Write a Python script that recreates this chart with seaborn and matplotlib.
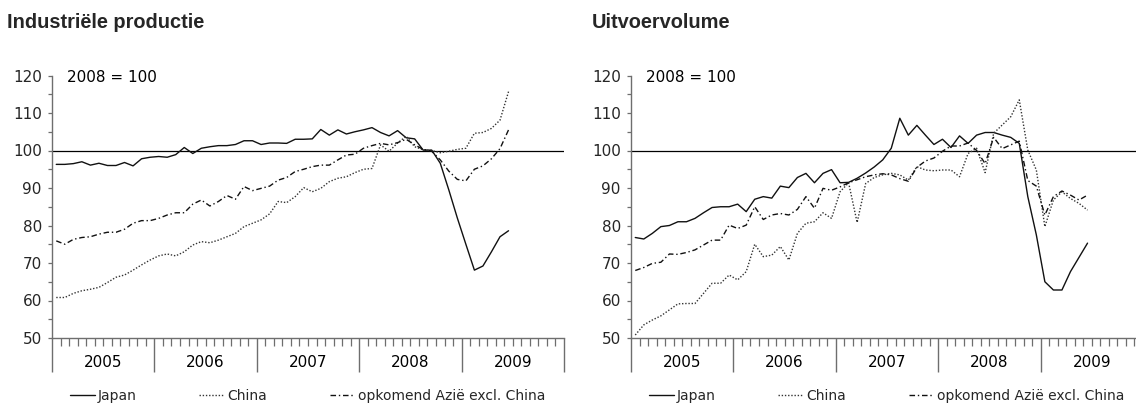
import numpy as np
import pandas as pd
import matplotlib
matplotlib.use("Agg")
import matplotlib.pyplot as plt
from matplotlib.lines import Line2D
from matplotlib.ticker import MultipleLocator, FixedLocator, NullFormatter
import seaborn as sns

# monthly data, Jan 2005 - Jun 2009, index 2008 = 100
months = pd.date_range("2005-01-01", "2009-06-01", freq="MS")
years = [2005, 2006, 2007, 2008, 2009]
series_names = ["Japan", "China", "opkomend Azië excl. China"]
panel_titles = ["Industriële productie", "Uitvoervolume"]
base_label = "2008 = 100"

ip_japan = [96.3, 96.3, 96.5, 97.0, 96.1, 96.6, 96.0, 96.0, 96.8, 95.9, 97.8, 98.2,
            98.4, 98.2, 98.9, 100.8, 99.2, 100.6, 101.0, 101.3, 101.3, 101.6, 102.6, 102.6,
            101.6, 102.0, 102.0, 101.9, 103.0, 103.0, 103.1, 105.6, 104.1, 105.5, 104.4, 105.0,
            105.5, 106.1, 104.8, 103.9, 105.3, 103.4, 103.1, 100.1, 100.1, 96.6, 89.5, 82.0,
            75.0, 68.1, 69.2, 73.0, 77.0, 78.6]
ip_china = [60.8, 60.8, 61.9, 62.6, 63.0, 63.5, 64.8, 66.2, 66.8, 68.1, 69.5, 70.8,
            71.9, 72.4, 71.9, 73.0, 74.8, 75.7, 75.4, 76.1, 77.0, 77.9, 79.7, 80.6,
            81.5, 83.1, 86.4, 86.1, 87.7, 90.1, 89.0, 89.9, 91.7, 92.6, 93.0, 94.1,
            95.0, 95.2, 101.5, 99.8, 102.0, 103.8, 101.0, 100.2, 100.0, 99.4, 99.8, 100.3,
            100.6, 104.6, 104.8, 105.9, 108.1, 115.7]
ip_asia = [75.9, 75.0, 76.3, 76.8, 77.0, 77.7, 78.2, 78.2, 79.0, 80.6, 81.3, 81.3,
           81.9, 82.8, 83.4, 83.4, 85.7, 86.8, 85.2, 86.4, 88.0, 87.0, 90.4, 89.3,
           89.9, 90.5, 92.1, 92.8, 94.4, 95.0, 95.7, 96.1, 96.1, 97.5, 98.8, 99.0,
           100.6, 101.3, 101.9, 101.5, 102.1, 103.0, 101.5, 100.3, 99.8, 97.5, 94.5, 92.3,
           91.9, 95.0, 95.9, 97.8, 100.5, 105.5]

exp_japan = [76.8, 76.4, 77.9, 79.7, 80.0, 81.0, 81.0, 81.9, 83.4, 84.8, 85.0, 85.0,
             85.7, 83.7, 87.0, 87.7, 87.3, 90.5, 90.1, 92.8, 93.9, 91.4, 93.9, 94.9,
             91.4, 91.5, 92.6, 94.0, 95.6, 97.5, 100.6, 108.6, 104.1, 106.7, 104.1, 101.6,
             103.0, 100.8, 103.9, 101.9, 104.1, 104.8, 104.8, 104.1, 103.5, 101.9, 87.7, 77.5,
             65.0, 62.8, 62.8, 67.7, 71.5, 75.3]
exp_china = [50.8, 53.5, 54.8, 55.9, 57.5, 59.1, 59.2, 59.2, 61.9, 64.6, 64.6, 66.8,
             65.5, 67.7, 75.0, 71.7, 72.1, 74.4, 70.8, 77.9, 80.6, 81.0, 83.4, 81.9,
             89.0, 91.4, 80.8, 91.2, 92.8, 93.5, 93.9, 93.5, 92.1, 95.7, 94.8, 94.6,
             94.8, 94.8, 93.0, 99.2, 100.6, 94.1, 104.6, 106.8, 109.0, 113.5, 100.1, 94.8,
             79.7, 86.8, 89.0, 87.2, 85.9, 84.1]
exp_asia = [68.0, 68.8, 69.9, 70.2, 72.4, 72.3, 72.8, 73.5, 74.8, 76.1, 76.1, 80.1,
            79.2, 80.1, 85.0, 81.6, 82.8, 83.2, 82.8, 84.3, 87.7, 84.6, 89.9, 89.4,
            90.3, 91.4, 92.2, 93.0, 93.5, 93.8, 93.5, 92.5, 91.8, 95.5, 97.2, 98.0,
            99.8, 101.2, 101.2, 102.0, 100.0, 96.5, 103.5, 100.5, 101.5, 102.5, 92.0, 90.5,
            82.8, 87.7, 89.2, 88.1, 86.8, 88.1]

panels = [
    [ip_japan, ip_china, ip_asia],
    [exp_japan, exp_china, exp_asia],
]

sns.set_theme(style="white")
plt.rcParams["font.family"] = ["DejaVu Sans"]

line_styles = ["-", (0, (1, 1.3)), (0, (4, 2, 1, 2))]
line_colors = ["#111111", "#333333", "#111111"]
axis_grey = "#6e6e6e"

fig = plt.figure(figsize=(11.36, 4.05), dpi=100)
ax_lefts = [52 / 1136, 631 / 1136]
title_x = [7 / 1136, 592 / 1136]
ax_w = 512 / 1136
ax_b = (405 - 338) / 405
ax_h = 262.5 / 405

# month position (centre of the month) on an axis running 0..60
xpos = (months.year - 2005) * 12 + months.month - 1 + 0.5

for p, values in enumerate(panels):
    ax = fig.add_axes([ax_lefts[p], ax_b, ax_w, ax_h])
    df = pd.DataFrame({"x": xpos})
    for name, vals in zip(series_names, values):
        df[name] = vals

    ax.axhline(100, color="black", lw=0.9, zorder=1)
    for k, name in enumerate(series_names):
        sns.lineplot(data=df, x="x", y=name, ax=ax, color=line_colors[k],
                     linestyle=line_styles[k], lw=1.0, legend=False, zorder=3)

    ax.set_xlim(0, 60)
    ax.set_ylim(50, 120)
    ax.set_xlabel("")
    ax.set_ylabel("")

    for s in ["top", "right"]:
        ax.spines[s].set_visible(False)
    for s in ["left", "bottom"]:
        ax.spines[s].set_color(axis_grey)
        ax.spines[s].set_linewidth(1.0)

    ax.yaxis.set_major_locator(MultipleLocator(10))
    ax.yaxis.set_minor_locator(MultipleLocator(5))
    ax.tick_params(axis="y", which="both", direction="out", length=3, width=0.9,
                   color=axis_grey, pad=4.3, labelsize=11, left=True)

    ax.xaxis.set_major_locator(FixedLocator([12 * k for k in range(6)]))
    ax.xaxis.set_minor_locator(FixedLocator([m for m in range(60) if m % 12]))
    ax.xaxis.set_major_formatter(NullFormatter())
    ax.tick_params(axis="x", which="major", direction="out", length=24.5, width=1.0,
                   color=axis_grey, bottom=True)
    ax.tick_params(axis="x", which="minor", direction="out", length=5.8, width=0.9,
                   color=axis_grey, bottom=True)

    for k, yr in enumerate(years):
        ax.text(12 * k + 6, -0.095, str(yr), transform=ax.get_xaxis_transform(),
                ha="center", va="center", fontsize=11, color="black")

    ax.text(15 / 512, 0.994, base_label, transform=ax.transAxes, ha="left",
            va="center", fontsize=11, color="black")

    handles = [Line2D([], [], color=line_colors[k], linestyle=line_styles[k], lw=1.0)
               for k in range(3)]
    ax.legend(handles, series_names, ncol=3, loc="center left",
              bbox_to_anchor=(18 / 512, -0.221), frameon=False, fontsize=10,
              handlelength=1.8, handletextpad=0.22, columnspacing=4.5,
              borderpad=0, borderaxespad=0)

    fig.text(title_x[p], (405 - 28) / 405, panel_titles[p], ha="left", va="baseline",
             fontsize=14.4, fontweight="bold", family=["Liberation Sans", "DejaVu Sans"])

fig.savefig("out.png", dpi=100)
